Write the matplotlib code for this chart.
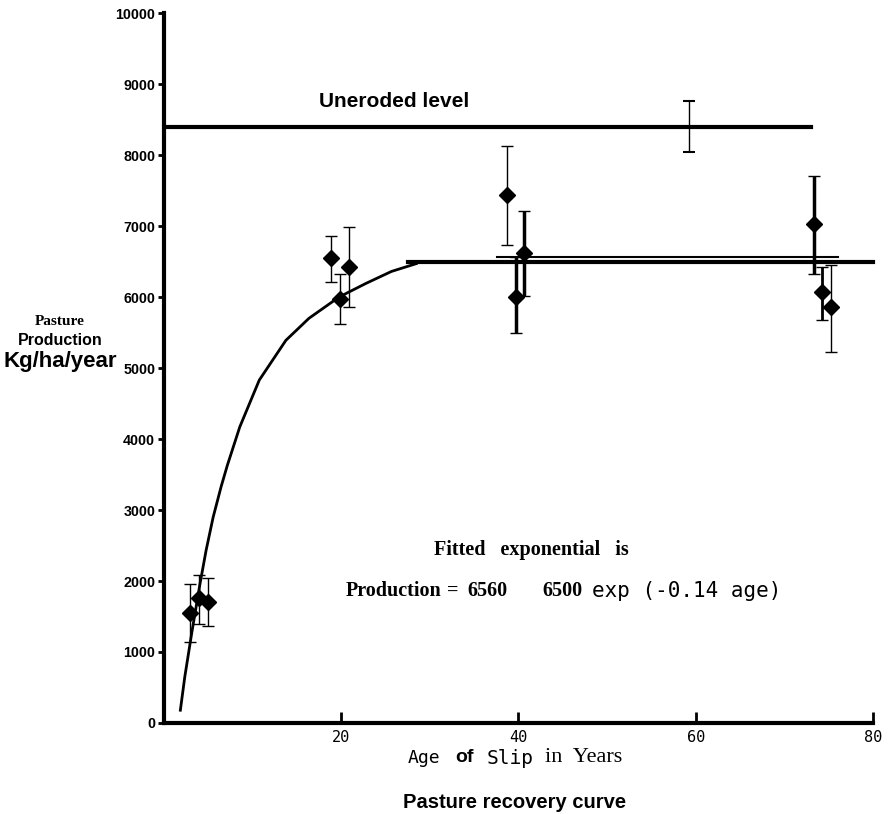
import matplotlib
matplotlib.use("Agg")
import matplotlib.pyplot as plt

# measured points (age of slip, production) with error bar ends
age = [3.0, 4.0, 5.0, 18.9, 19.9, 20.9, 38.7, 39.7, 40.7, 73.3, 74.3, 75.3]
prod = [1545, 1756, 1709, 6545, 5972, 6427, 7440, 6000, 6620, 7030, 6070, 5860]
err_lo = [1136, 1394, 1366, 6216, 5620, 5863, 6730, 5490, 6010, 6320, 5680, 5225]
err_hi = [1953, 2085, 2047, 6859, 6320, 6991, 8130, 6560, 7210, 7700, 6420, 6450]
bar_lw = [1, 1, 1, 1, 1, 1, 1, 2.5, 2.5, 2.5, 2, 1]

# point hidden under the uneroded line
hidden_age = 59.3
hidden_prod = 8400
hidden_lo = 8047
hidden_hi = 8765

# fitted curve
curve_age = [1.9, 2.4, 3.2, 4.1, 4.8, 5.6, 6.5, 7.2, 8.6, 10.8, 13.8, 16.4, 19.8, 22.8, 25.7, 28.5]
curve_prod = [180, 650, 1280, 1950, 2430, 2900, 3330, 3630, 4170, 4830, 5390, 5700, 6000, 6190, 6360, 6470]

uneroded = 8400
plateau = 6500
plateau_fit = 6560

fig = plt.figure(figsize=(8.92, 8.14), dpi=100)
ax = fig.add_axes([0.1833, 0.1118, 0.7954, 0.8722])

ax.plot(curve_age, curve_prod, color='black', lw=2, solid_joinstyle='round')
ax.plot([0, 73], [uneroded, uneroded], color='black', lw=3)
ax.plot([27.6, 80], [plateau, plateau], color='black', lw=3, clip_on=False)
ax.plot([37.6, 76], [plateau_fit, plateau_fit], color='black', lw=1.5)

for i in range(len(age)):
    ax.errorbar(age[i], prod[i],
                yerr=[[prod[i] - err_lo[i]], [err_hi[i] - prod[i]]],
                fmt='D', color='black', ms=8, elinewidth=bar_lw[i],
                capsize=4, capthick=1)

ax.errorbar(hidden_age, hidden_prod,
            yerr=[[hidden_prod - hidden_lo], [hidden_hi - hidden_prod]],
            fmt='none', ecolor='black', elinewidth=1, capsize=4, capthick=1.5)

ax.set_xlim(0, 80)
ax.set_ylim(0, 10000)
ax.spines['top'].set_visible(False)
ax.spines['right'].set_visible(False)
ax.spines['left'].set_linewidth(3)
ax.spines['bottom'].set_linewidth(3)

ax.set_xticks([20, 40, 60, 80])
ax.set_xticklabels(['20', '40', '60', '80'], family='DejaVu Sans Mono', fontsize=11)
ax.tick_params(axis='x', direction='in', length=8, width=2, pad=5)
ax.set_yticks(range(0, 10001, 1000))
ax.set_yticklabels([str(v) for v in range(0, 10001, 1000)],
                   family='Liberation Sans', fontweight='bold', fontsize=10.3)
ax.tick_params(axis='y', direction='out', length=4, width=2, pad=2)

ax.text(17.5, 8760, 'Uneroded level', family='Liberation Sans', fontweight='bold',
        fontsize=15, va='center', ha='left')
ax.text(41.5, 2437, 'Fitted   exponential   is', family='Liberation Serif',
        fontweight='bold', fontsize=14.5, ha='center', va='center')
ax.text(20.5, 1860, 'Production', family='Liberation Serif',
        fontweight='bold', fontsize=14.5, ha='left', va='center')
ax.text(32.6, 1860, '=', family='Liberation Serif',
        fontweight='bold', fontsize=14.5, ha='center', va='center')
ax.text(34.3, 1860, '6560', family='Liberation Serif',
        fontweight='bold', fontsize=14.5, ha='left', va='center')
ax.text(42.7, 1860, '6500', family='Liberation Serif',
        fontweight='bold', fontsize=14.5, ha='left', va='center')
ax.text(48.3, 1860, 'exp (-0.14 age)', family='DejaVu Sans Mono',
        fontsize=15, ha='left', va='center')

# y label block
fig.text(60 / 892, 1 - 321 / 814, 'Pasture', family='Liberation Serif',
         fontweight='bold', fontsize=11, ha='center', va='center')
fig.text(60 / 892, 1 - 341 / 814, 'Production', family='Liberation Sans',
         fontweight='bold', fontsize=11.5, ha='center', va='center')
fig.text(60 / 892, 1 - 362 / 814, 'Kg/ha/year', family='Liberation Sans',
         fontweight='bold', fontsize=16, ha='center', va='center')

# x label pieces
fig.text(408 / 892, 1 - 758 / 814, 'Age', family='DejaVu Sans Mono', fontsize=13,
         ha='left', va='center')
fig.text(455 / 892, 1 - 757 / 814, 'of', family='Liberation Sans', fontweight='bold',
         fontsize=14, ha='left', va='center')
fig.text(487 / 892, 1 - 759 / 814, 'Slip', family='DejaVu Sans Mono', fontsize=14,
         ha='left', va='center')
fig.text(545 / 892, 1 - 757 / 814, 'in  Years', family='Liberation Serif',
         fontsize=16, ha='left', va='center')

fig.text(515 / 892, 1 - 802 / 814, 'Pasture recovery curve', family='Liberation Sans',
         fontweight='bold', fontsize=14.5, ha='center', va='center')

fig.savefig('out.png', dpi=100)
